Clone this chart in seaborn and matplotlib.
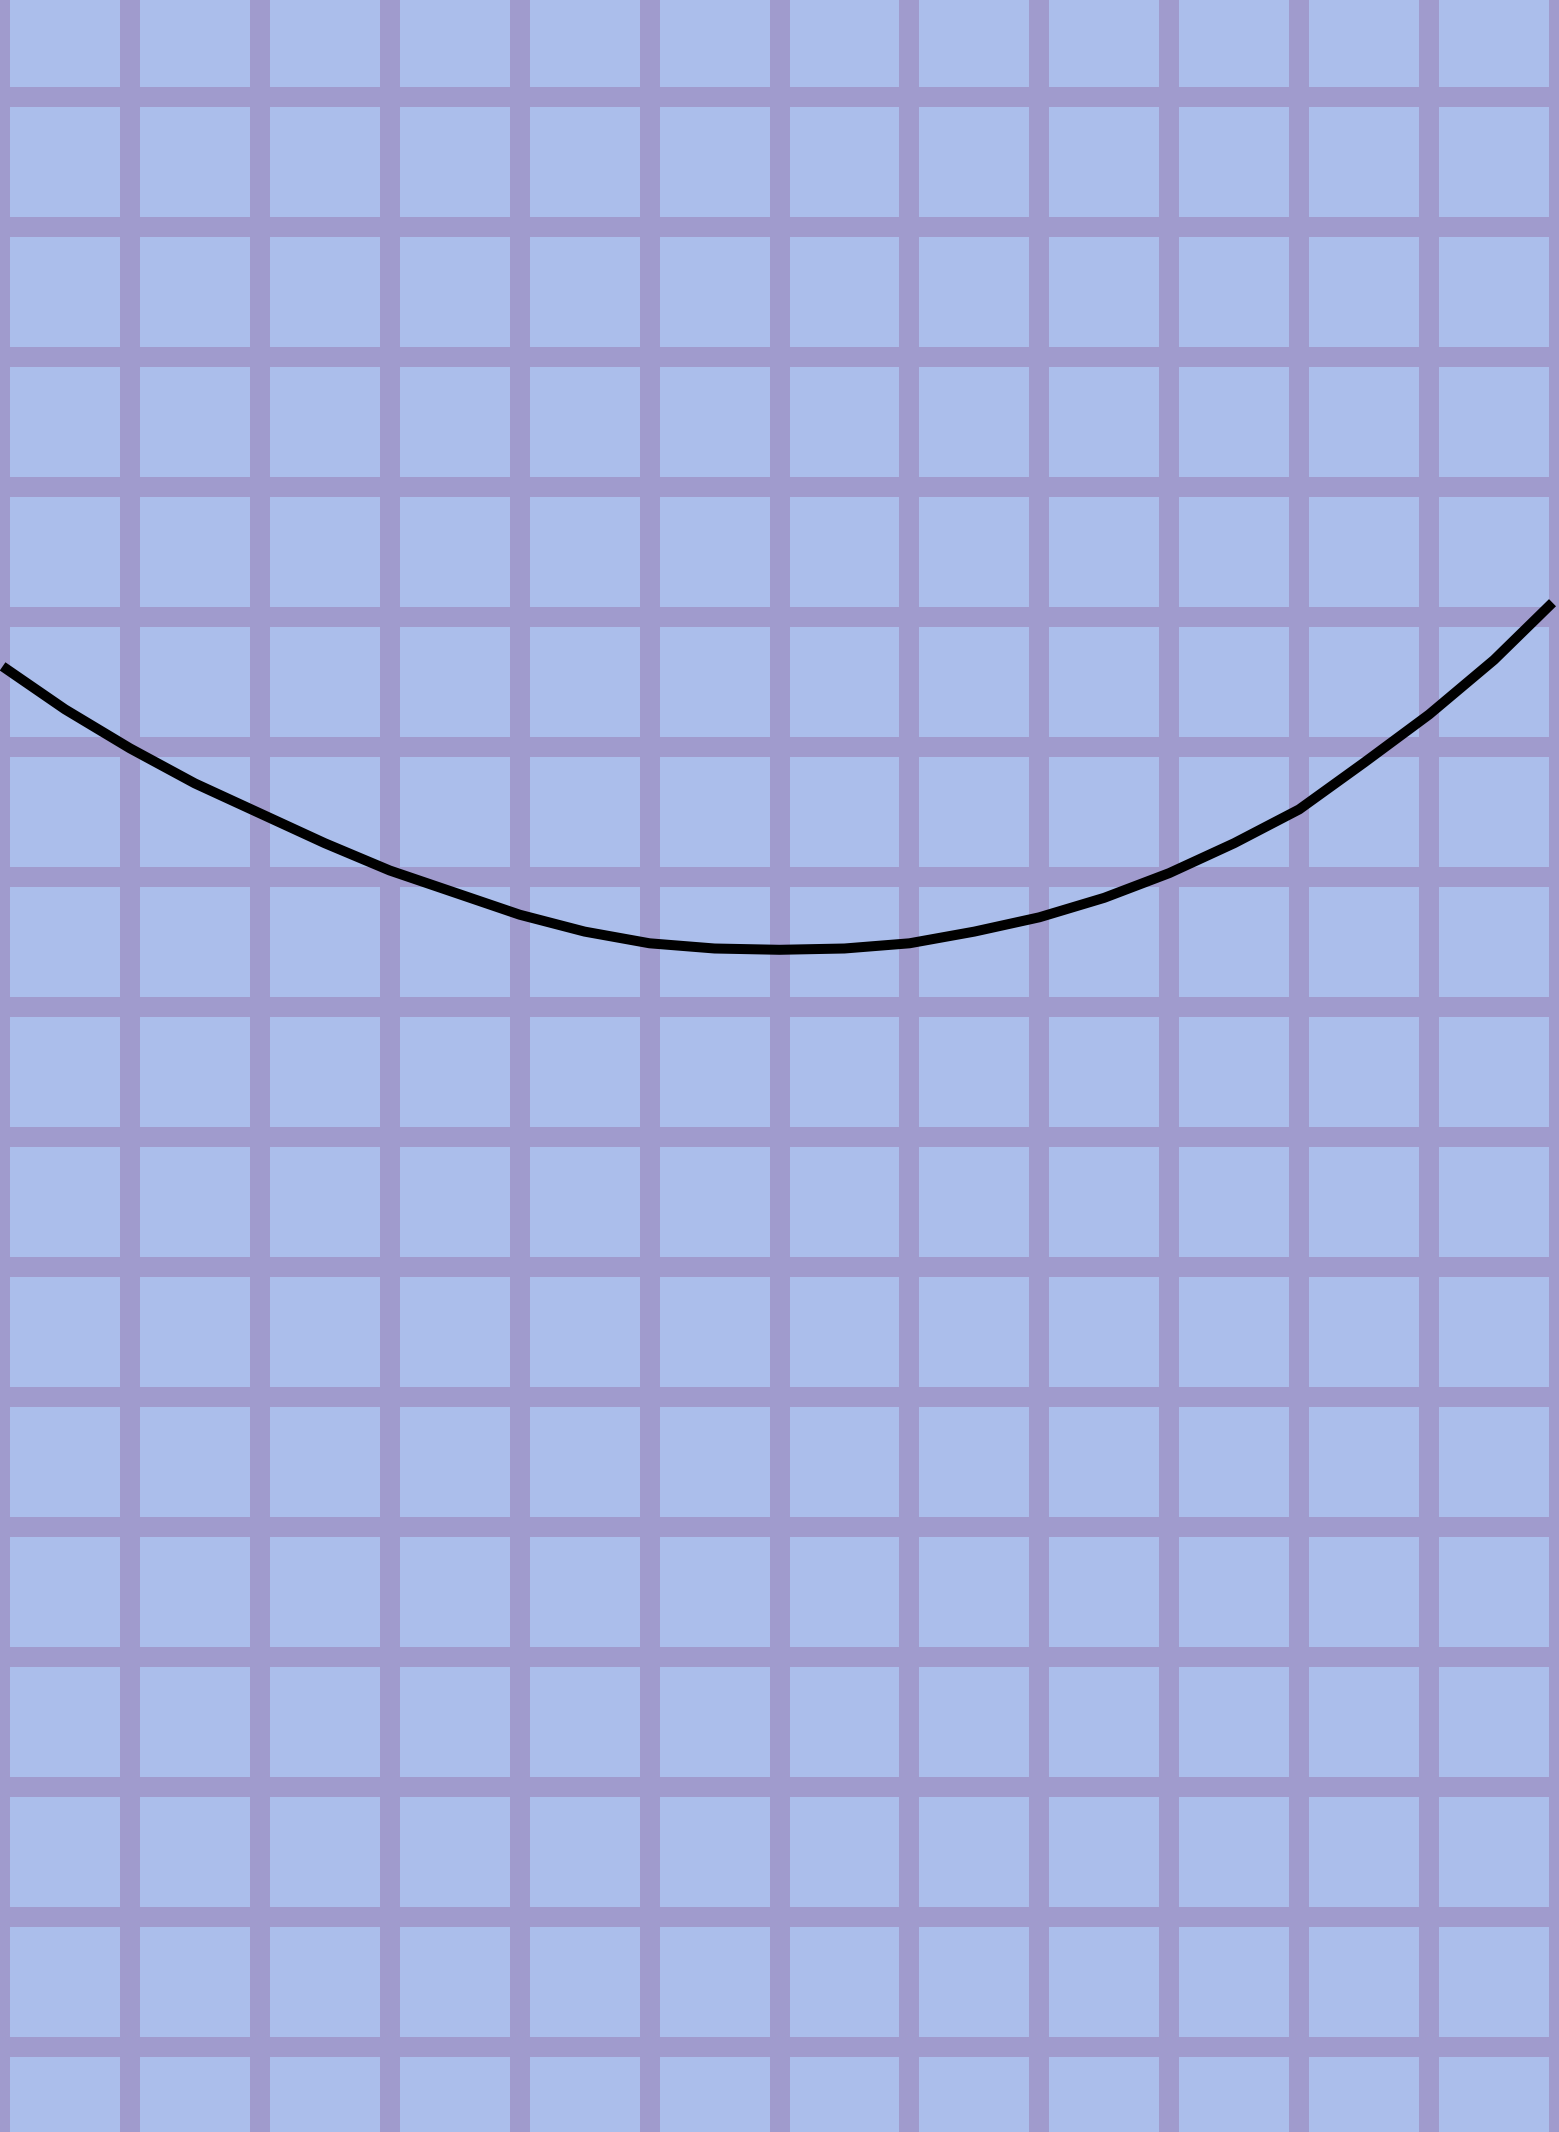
import pandas as pd
import matplotlib
matplotlib.use("Agg")
import matplotlib.pyplot as plt
import seaborn as sns

# curve, in grid units (one grid cell = 1)
x_vals = [0.02, 0.5, 1.0, 1.5, 2.0, 2.5, 3.0, 3.5, 4.0, 4.5, 5.0, 5.5, 6.0,
          6.5, 7.0, 7.5, 8.0, 8.5, 9.0, 9.5, 10.0, 10.5, 11.0, 11.5, 11.95]
y_vals = [10.62, 10.29, 9.99, 9.72, 9.49, 9.26, 9.05, 8.88, 8.71, 8.58, 8.49, 8.45, 8.44,
          8.45, 8.49, 8.58, 8.69, 8.84, 9.03, 9.26, 9.52, 9.88, 10.25, 10.67, 11.11]
x_ticks = list(range(0, 13))
y_ticks = list(range(0, 16))

df = pd.DataFrame({"x": x_vals, "y": y_vals})

sns.set_style("darkgrid", {
    "axes.facecolor": "#ABBEEB",
    "grid.color": "#A09BCD",
    "axes.edgecolor": "none",
})

fig = plt.figure(figsize=(15.59, 21.32), dpi=100)
ax = fig.add_axes([0, 0, 1, 1])
ax.set_axisbelow(True)

sns.lineplot(data=df, x="x", y="y", ax=ax, color="black", linewidth=7.2,
             sort=False, solid_capstyle="butt", solid_joinstyle="round")

ax.set_xlim(0, 12)
ax.set_ylim(-85 / 130, 2047 / 130)
ax.set_xticks(x_ticks)
ax.set_yticks(y_ticks)
ax.set_xticklabels([])
ax.set_yticklabels([])
ax.tick_params(length=0)
ax.grid(True, color="#A09BCD", linewidth=14.4)
ax.set_xlabel("")
ax.set_ylabel("")
for s in ax.spines.values():
    s.set_visible(False)

fig.savefig("out.png", dpi=100)
